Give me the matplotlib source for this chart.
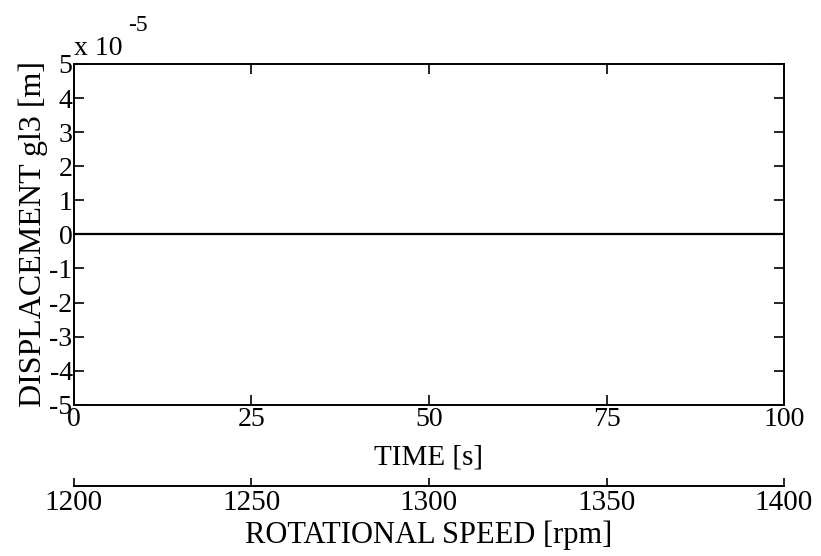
import numpy as np
import matplotlib
matplotlib.use("Agg")
import matplotlib.pyplot as plt

plt.rcParams['font.family'] = ['Liberation Serif', 'DejaVu Serif']
plt.rcParams['axes.unicode_minus'] = False

# 変位の時間履歴 (ほぼ0のまま)
time = [0, 100]
disp = [0.0, 0.0]

time_ticks = [0, 25, 50, 75, 100]
disp_ticks = [-5, -4, -3, -2, -1, 0, 1, 2, 3, 4, 5]
rpm_ticks = [1200, 1250, 1300, 1350, 1400]

fig = plt.figure(figsize=(8.21, 5.56), dpi=100)
ax = fig.add_axes([0.090, 0.272, 0.865, 0.613])

ax.plot(time, np.array(disp) * 1e-5, color='black', linewidth=1.6)

ax.set_xlim(0, 100)
ax.set_ylim(-5e-5, 5e-5)
ax.set_xticks(time_ticks)
ax.set_xticklabels([str(t) for t in time_ticks])
ax.set_yticks(np.array(disp_ticks) * 1e-5)
ax.set_yticklabels([str(d) for d in disp_ticks])
ax.tick_params(direction='in', length=7, width=1.2, labelsize=20,
               top=True, right=True)
ax.tick_params(axis='x', pad=1.5)
ax.tick_params(axis='y', pad=1)
for s in ax.spines.values():
    s.set_linewidth(1.4)

ax.set_xlabel('TIME [s]', fontsize=21)
ax.xaxis.set_label_coords(0.5, -0.118)
ax.set_ylabel('DISPLACEMENT gl3 [m]', fontsize=23)
ax.yaxis.set_label_coords(-0.037, 0.5)

# 指数表示 (x 10^-5)
fig.text(0.090, 1 - 55 / 556, 'x 10', fontsize=20, ha='left', va='baseline')
fig.text(0.156, 1 - 31 / 556, '-5', fontsize=17, ha='left', va='baseline')

# 回転数の副軸
ax2 = fig.add_axes([0.090, 0.126, 0.865, 0.0001])
ax2.set_xlim(1200, 1400)
ax2.set_xticks(rpm_ticks)
ax2.set_xticklabels([str(r) for r in rpm_ticks])
ax2.set_yticks([])
for k in ['top', 'left', 'right']:
    ax2.spines[k].set_visible(False)
ax2.spines['bottom'].set_linewidth(1.4)
ax2.tick_params(axis='x', direction='in', length=6, width=1.2, labelsize=21, pad=3)
ax2.set_xlabel('ROTATIONAL SPEED [rpm]', fontsize=22, labelpad=3)

fig.savefig('out.png', dpi=100)
